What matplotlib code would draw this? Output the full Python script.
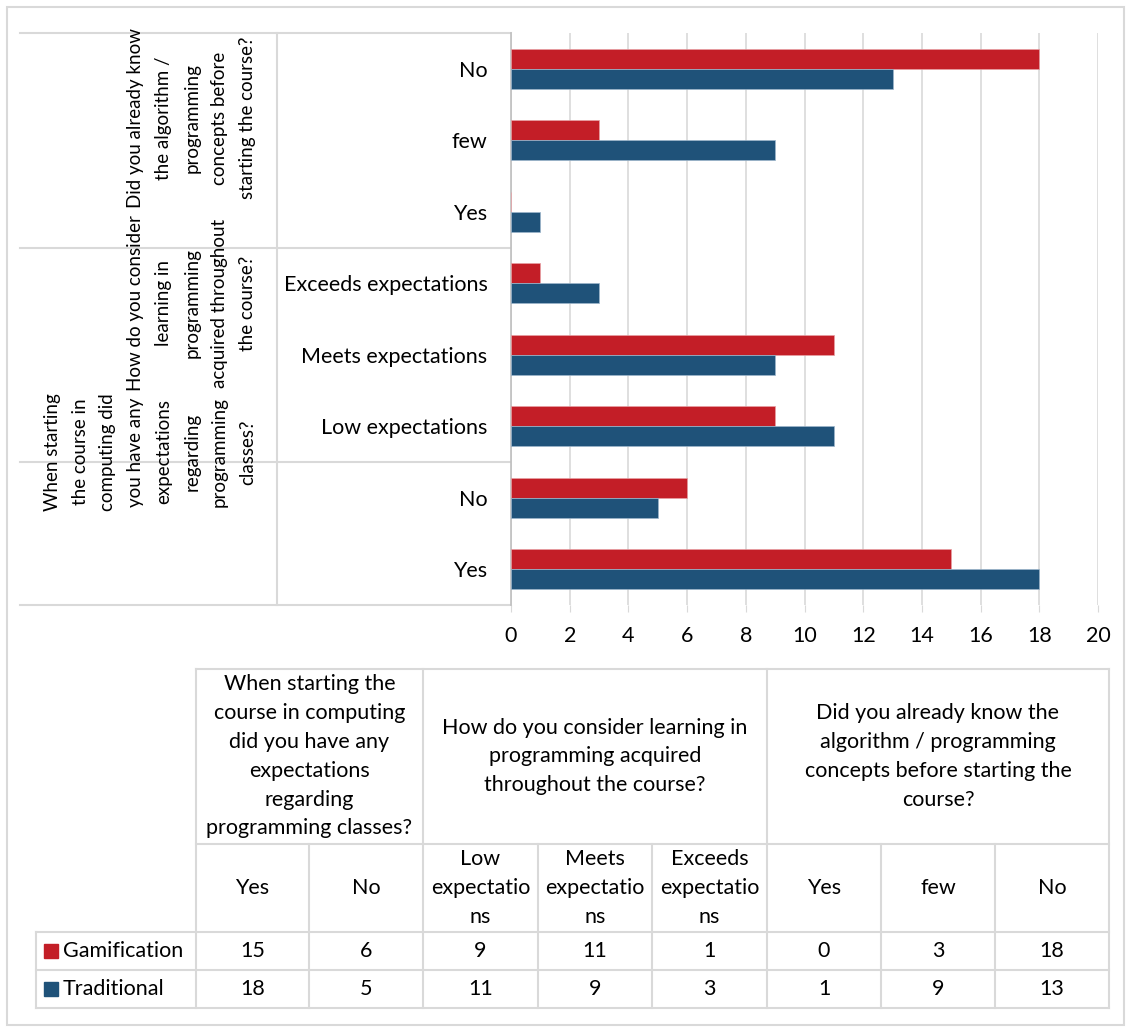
import numpy as np
import matplotlib
matplotlib.use("Agg")
import matplotlib.pyplot as plt
from matplotlib.patches import Rectangle

plt.rcParams['font.family'] = ['Lato', 'DejaVu Sans']

# ---------- data ----------
subcats = ["Yes", "No", "Low expectations", "Meets expectations",
           "Exceeds expectations", "Yes", "few", "No"]
gamification = [15, 6, 9, 11, 1, 0, 3, 18]
traditional = [18, 5, 11, 9, 3, 1, 9, 13]
series_names = ["Gamification", "Traditional"]
group_sizes = [2, 3, 3]

# group labels as wrapped on the category axis
axis_groups = [
    "When starting\nthe course in\ncomputing did\nyou have any\nexpectations\nregarding\nprogramming\nclasses?",
    "How do you consider\nlearning in\nprogramming\nacquired throughout\nthe course?",
    "Did you already know\nthe algorithm /\nprogramming\nconcepts before\nstarting the course?",
]
# same labels as wrapped in the data table
table_groups = [
    "When starting the\ncourse in computing\ndid you have any\nexpectations\nregarding\nprogramming classes?",
    "How do you consider learning in\nprogramming acquired\nthroughout the course?",
    "Did you already know the\nalgorithm / programming\nconcepts before starting the\ncourse?",
]
table_subcats = ["Yes", "No", "Low\nexpectatio\nns", "Meets\nexpectatio\nns",
                 "Exceeds\nexpectatio\nns", "Yes", "few", "No"]
xticks = [0, 2, 4, 6, 8, 10, 12, 14, 16, 18, 20]

RED = "#C31E27"
BLUE = "#1F5279"
GRID = "#D9D9D9"
FS = 15.5
LS = 1.55
FS_ROT = 13.5

W, H = 1132, 1033
fig = plt.figure(figsize=(W / 100, H / 100), dpi=100)

# plot area in pixels
px_l, px_r, px_t, px_b = 511, 1098, 33, 605
ax = fig.add_axes([px_l / W, 1 - px_b / H, (px_r - px_l) / W, (px_b - px_t) / H])

y = np.arange(len(subcats))
h = 0.28
ax.barh(y + h / 2, gamification, height=h, color=RED, edgecolor="#E8A0A4", linewidth=0.5, zorder=3)
ax.barh(y - h / 2, traditional, height=h, color=BLUE, edgecolor="#9DB6CC", linewidth=0.5, zorder=3)

ax.set_xlim(0, 20)
ax.set_ylim(-0.5, len(subcats) - 0.5)
ax.set_xticks(xticks)
ax.set_xticklabels([str(t) for t in xticks], fontsize=FS)
ax.set_yticks(y)
ax.set_yticklabels(subcats, fontsize=FS)
ax.tick_params(axis='y', length=0, pad=17)
ax.tick_params(axis='x', length=5, color=GRID, pad=10)
ax.grid(axis='x', color=GRID, linewidth=1.2, zorder=0)
for s in ["top", "right", "bottom"]:
    ax.spines[s].set_visible(False)
ax.spines["left"].set_color("#BFBFBF")
ax.spines["left"].set_linewidth(1.2)

# overlay in pixel coordinates for the category frame and data table
ov = fig.add_axes([0, 0, 1, 1], zorder=-1)
ov.set_xlim(0, W)
ov.set_ylim(H, 0)
ov.axis('off')

ov.add_patch(Rectangle((7, 7), W - 15, H - 15, fill=False, edgecolor=GRID, linewidth=1.5))

cat_h = (px_b - px_t) / len(subcats)
# group separators on the category axis
bounds = [px_b]
for n in group_sizes:
    bounds.append(bounds[-1] - n * cat_h)
for b in bounds:
    ov.plot([20, px_l], [b, b], color=GRID, lw=1.5)
ov.plot([277, 277], [px_t, px_b], color=GRID, lw=1.5)

group_centers = [452, 303, 118]
for lbl, yc in zip(axis_groups, group_centers):
    ov.text(256, yc, lbl, rotation=90, ha='right', va='center', multialignment='center',
            fontsize=FS_ROT, linespacing=LS * FS / FS_ROT)

# ---------- data table ----------
col_x = [196, 309, 423, 538, 652, 767, 881, 995, 1109]
top, hdr, sub, r1, r2 = 669, 844, 932, 970, 1008
leg_l = 36

def hline(yv, x0, x1):
    ov.plot([x0, x1], [yv, yv], color=GRID, lw=1.5)

def vline(xv, y0, y1):
    ov.plot([xv, xv], [y0, y1], color=GRID, lw=1.5)

hline(top, col_x[0], col_x[-1])
hline(hdr, col_x[0], col_x[-1])
for yv in (sub, r1, r2):
    hline(yv, leg_l, col_x[-1])
vline(leg_l, sub, r2)
gstart = 0
group_edges = [0]
for n in group_sizes:
    gstart += n
    group_edges.append(gstart)
for i, xv in enumerate(col_x):
    if i in group_edges:
        vline(xv, top, r2)
    else:
        vline(xv, hdr, r2)

for g, lbl in enumerate(table_groups):
    x0 = col_x[group_edges[g]]
    x1 = col_x[group_edges[g + 1]]
    ov.text((x0 + x1) / 2, (top + hdr) / 2, lbl, ha='center', va='center',
            multialignment='center', fontsize=FS, linespacing=LS)

for i, lbl in enumerate(table_subcats):
    xc = (col_x[i] + col_x[i + 1]) / 2
    ov.text(xc, (hdr + sub) / 2, lbl, ha='center', va='center',
            multialignment='center', fontsize=FS, linespacing=LS)

rows = [(series_names[0], gamification, RED, (sub + r1) / 2),
        (series_names[1], traditional, BLUE, (r1 + r2) / 2)]
for name, vals, col, yc in rows:
    ov.add_patch(Rectangle((44, yc - 7), 14, 14, color=col))
    ov.text(63, yc, name, ha='left', va='center', fontsize=FS)
    for i, v in enumerate(vals):
        xc = (col_x[i] + col_x[i + 1]) / 2
        ov.text(xc, yc, str(v), ha='center', va='center', fontsize=FS)

fig.savefig("out.png", dpi=100)
